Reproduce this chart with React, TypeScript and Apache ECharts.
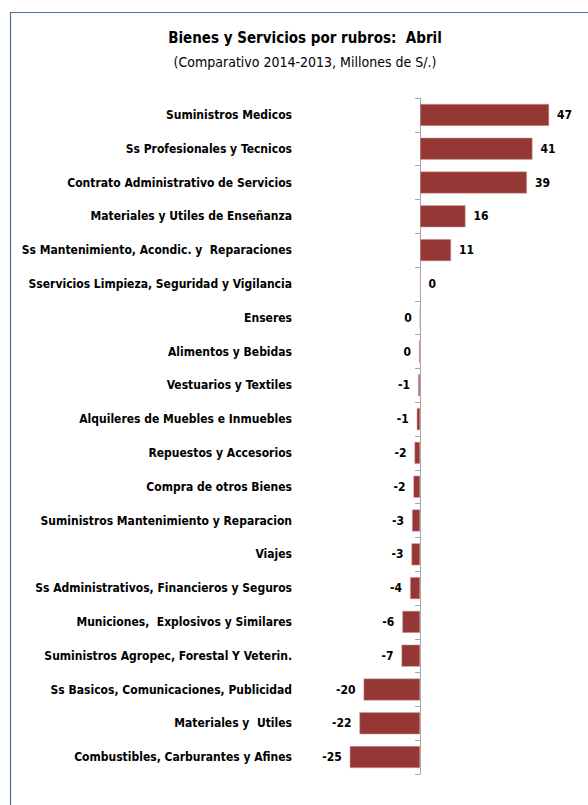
import React, { useEffect, useRef } from "react";
import * as echarts from "echarts";

const categories: string[] = [
  "Suministros Medicos",
  "Ss Profesionales y Tecnicos",
  "Contrato Administrativo de Servicios",
  "Materiales y Utiles de Enseñanza",
  "Ss Mantenimiento, Acondic. y  Reparaciones",
  "Sservicios Limpieza, Seguridad y Vigilancia",
  "Enseres",
  "Alimentos y Bebidas",
  "Vestuarios y Textiles",
  "Alquileres de Muebles e Inmuebles",
  "Repuestos y Accesorios",
  "Compra de otros Bienes",
  "Suministros Mantenimiento y Reparacion",
  "Viajes",
  "Ss Administrativos, Financieros y Seguros",
  "Municiones,  Explosivos y Similares",
  "Suministros Agropec, Forestal Y Veterin.",
  "Ss Basicos, Comunicaciones, Publicidad",
  "Materiales y  Utiles",
  "Combustibles, Carburantes y Afines",
];

const values: number[] = [
  46.6, 40.6, 38.6, 16.4, 11.2, 0.2, -0.1, -0.4, -0.7, -1.2, -2.0, -2.4, -2.9,
  -3.1, -3.6, -6.4, -6.7, -20.4, -21.9, -25.4,
];

const titleText = "Bienes y Servicios por rubros:  Abril";
const subtitleText = "(Comparativo 2014-2013, Millones de S/.)";

const FONT = "'DejaVu Sans Condensed', Lato, sans-serif";

export default function App() {
  const ref = useRef<HTMLDivElement>(null);
  useEffect(() => {
    document.body.style.margin = "0";
    if (!ref.current) return;
    const chart = echarts.init(ref.current, undefined, { renderer: "svg" });
    chart.setOption({
      animation: false,
      backgroundColor: "#ffffff",
      title: {
        text: titleText,
        subtext: subtitleText,
        left: 300,
        textAlign: "center",
        top: 25,
        itemGap: 10,
        textStyle: {
          fontFamily: FONT,
          fontWeight: "bold",
          fontSize: 15,
          color: "#000000",
        },
        subtextStyle: {
          fontFamily: FONT,
          fontSize: 14,
          color: "#000000",
        },
      },
      graphic: [
        {
          type: "polyline",
          shape: {
            points: [
              [10.5, 820],
              [10.5, 12.5],
              [600, 12.5],
            ],
          },
          style: { stroke: "#4f6f9f", lineWidth: 1.2, fill: "none" },
          silent: true,
        },
      ],
      grid: {
        left: 337,
        right: 29.5,
        top: 98,
        bottom: 31,
        containLabel: false,
        outerBoundsMode: "none",
      },
      xAxis: {
        type: "value",
        min: -30,
        max: 50,
        show: false,
      },
      yAxis: {
        type: "category",
        data: categories,
        inverse: true,
        axisLine: {
          show: true,
          onZero: true,
          lineStyle: { color: "#a6a6a6", width: 1 },
        },
        axisTick: {
          show: true,
          length: 5,
          lineStyle: { color: "#a6a6a6" },
        },
        splitLine: { show: false },
        axisLabel: {
          margin: 45,
          fontFamily: FONT,
          fontWeight: "bold",
          fontSize: 12,
          color: "#000000",
          align: "right",
        },
      },
      series: [
        {
          type: "bar",
          barWidth: 22,
          data: values.map((v) => ({
            value: v,
            label: {
              show: true,
              position: v >= 0 ? "right" : "left",
              distance: 8,
              formatter: () => String(Math.round(v) === 0 ? 0 : Math.round(v)),
              fontFamily: FONT,
              fontWeight: "bold",
              fontSize: 12,
              color: "#000000",
            },
          })),
          itemStyle: {
            color: "#953735",
            borderColor: "#d9a7a6",
            borderWidth: 0.5,
          },
        },
      ],
    });
    return () => chart.dispose();
  }, []);
  return <div ref={ref} style={{ width: 588, height: 805 }} />;
}
